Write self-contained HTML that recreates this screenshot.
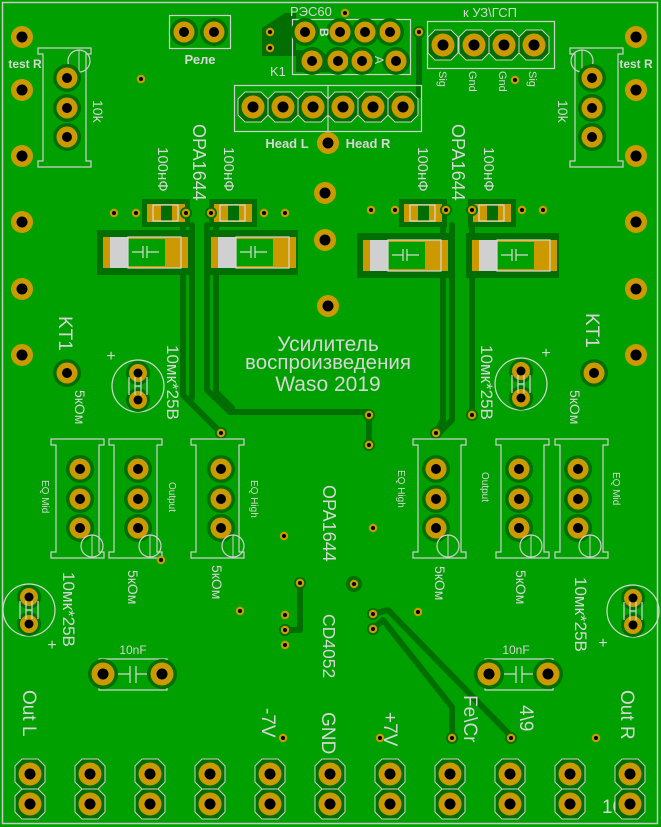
<!DOCTYPE html>
<html><head><meta charset="utf-8"><style>
html,body{margin:0;padding:0;background:#00a000;}
svg{display:block}
text{font-family:"Liberation Sans","DejaVu Sans",sans-serif;fill:#d6d6d6;}
</style></head><body>
<svg width="661" height="827" viewBox="0 0 661 827" xmlns="http://www.w3.org/2000/svg">
<defs>
<g id="pad"><circle r="15" fill="#006e00"/><circle r="11.5" fill="#cc9a00"/><circle r="5.5" fill="#000"/></g>
<g id="pad2"><circle r="11" fill="#cc9a00"/><circle r="5.5" fill="#000"/></g>
<g id="ppad"><circle r="14" fill="#006e00"/><circle r="10.5" fill="#cc9a00"/><circle r="5" fill="#000"/></g>
<g id="via"><circle r="6" fill="#006e00"/><circle r="4.2" fill="#cc9a00"/><circle r="2" fill="#000"/></g>
<g id="via2"><circle r="4.2" fill="#cc9a00"/><circle r="2" fill="#000"/></g>
<g id="hpad"><polygon points="-8,-15 8,-15 15,-8 15,8 8,15 -8,15 -15,8 -15,-8" fill="#006e00" stroke="#d0d0d0" stroke-width="1"/><circle r="11.5" fill="#cc9a00"/><circle r="5.5" fill="#000"/></g>
<g id="pot" fill="none" stroke="#d0d0d0" stroke-width="1.2">
<path d="M0,0 H53 V6 H48 V113 H53 V119 H0 V113 H5 V6 H0 Z"/>
</g>
<g id="smd">
<rect x="-5" y="-5" width="48" height="28" fill="#006e00"/>
<rect x="0" y="0" width="38" height="18" fill="#cc9a00"/>
<rect x="14" y="1" width="11" height="16" fill="#006e00"/>
<rect x="6" y="1" width="25" height="16" fill="none" stroke="#d8d8d8" stroke-width="1.2"/>
</g>
<g id="bigcap">
<rect x="0" y="0" width="93" height="45" fill="#006e00"/>
<rect x="6" y="7" width="85" height="31" fill="#cc9a00"/>
<rect x="13" y="7" width="18" height="31" fill="#d0d0d0"/>
<rect x="31" y="9" width="37" height="27" fill="#00a000"/>
<rect x="31" y="7" width="53" height="31" fill="none" stroke="#d8d8d8" stroke-width="1.2"/>
<path d="M35,22 H46 M46,16 V28 M50,16 V28 M50,22 H62" stroke="#d8d8d8" stroke-width="1.2"/>
</g>
<g id="ecap">
<circle r="26" fill="none" stroke="#d8d8d8" stroke-width="1.2"/>
<circle cx="0" cy="-13" r="12" fill="#006e00"/><circle cx="0" cy="14" r="12" fill="#006e00"/>
<circle cx="0" cy="-13" r="9" fill="#cc9a00"/><circle cx="0" cy="14" r="9" fill="#cc9a00"/>
<circle cx="0" cy="-13" r="4.5" fill="#000"/><circle cx="0" cy="14" r="4.5" fill="#000"/>
<path d="M-9,-9 V9 M-3,-9 V9 M3,-9 V9 M9,-9 V9 M-3,0 H3" stroke="#d8d8d8" stroke-width="1.2" fill="none"/>
</g>
<g id="ccap">
<rect x="0" y="0" width="68" height="31" fill="none" stroke="#d8d8d8" stroke-width="1.2"/>
<path d="M4,15 H31 M31,7 V24 M37,7 V24 M37,15 H63" stroke="#d8d8d8" stroke-width="1.2"/>
</g>
</defs>
<rect width="661" height="827" fill="#00a000"/>
<rect x="2.5" y="2.5" width="655" height="821" fill="none" stroke="#c8c8c8" stroke-width="1.5"/>

<g stroke="#006e00" stroke-width="6" fill="none" stroke-linejoin="round" stroke-linecap="round">
<path d="M183,225 V395 L221,433"/>
<path d="M192,225 V398"/>
<path d="M207,225 V390 L230,412 H369 V445"/>
<path d="M216,225 V392 L232,408"/>
<path d="M443,225 V420 L436,433"/>
<path d="M452,225 V420 L440,432"/>
<path d="M472,225 V415"/>
<path d="M300,583 V630 H285"/>
<path d="M373,614 L388,610 L513,738"/>
<path d="M373,629 L383,620 L452,707 V738"/>
<path d="M419,32 V95"/>
</g>
<polygon points="262,28 285,13 296,13 296,56 262,56" fill="#006e00"/>
<polygon points="296,50 320,50 345,72 296,72" fill="#006e00"/>

<g>
<use href="#pad2" x="22" y="37"/><use href="#pad2" x="22" y="90"/><use href="#pad2" x="22" y="156"/><use href="#pad2" x="22" y="222"/><use href="#pad2" x="22" y="289"/><use href="#pad2" x="22" y="355"/>
<use href="#pad2" x="636" y="37"/><use href="#pad2" x="636" y="90"/><use href="#pad2" x="636" y="156"/><use href="#pad2" x="636" y="222"/><use href="#pad2" x="636" y="289"/><use href="#pad2" x="636" y="355"/>
<use href="#pad2" x="328" y="143"/><use href="#pad2" x="325" y="193"/><use href="#pad2" x="325" y="240"/><use href="#pad2" x="328" y="306"/>
<use href="#ppad" x="67" y="373"/><use href="#ppad" x="594" y="373"/>
</g>
<text x="25" y="68" font-size="12" font-weight="bold" text-anchor="middle">test R</text>
<text x="636" y="68" font-size="12" font-weight="bold" text-anchor="middle">test R</text>

<use href="#pot" x="38" y="48"/>
<circle cx="79" cy="61" r="11" fill="none" stroke="#d0d0d0" stroke-width="1.2"/><path d="M79,50 V72" stroke="#d0d0d0"/>
<use href="#ppad" x="67" y="78"/><use href="#ppad" x="67" y="108"/><use href="#ppad" x="67" y="137"/>
<text transform="translate(93,100) rotate(90)" font-size="14">10k</text>
<use href="#pot" x="570" y="48"/>
<circle cx="582" cy="61" r="11" fill="none" stroke="#d0d0d0" stroke-width="1.2"/><path d="M582,50 V72" stroke="#d0d0d0"/>
<use href="#ppad" x="592" y="78"/><use href="#ppad" x="592" y="108"/><use href="#ppad" x="592" y="137"/>
<text transform="translate(558,100) rotate(90)" font-size="14">10k</text>

<rect x="169.5" y="15.5" width="61" height="33" fill="none" stroke="#d0d0d0" stroke-width="1.2"/>
<use href="#ppad" x="184" y="32"/><use href="#ppad" x="214" y="32"/>
<text x="200" y="64" font-size="13" font-weight="bold" text-anchor="middle">Реле</text>

<rect x="292.5" y="19.5" width="118" height="55" fill="none" stroke="#d0d0d0" stroke-width="1.2"/>
<use href="#ppad" x="305" y="32"/><use href="#ppad" x="340" y="32"/><use href="#ppad" x="365" y="32"/><use href="#ppad" x="390" y="32"/>
<use href="#ppad" x="312" y="61"/><use href="#ppad" x="338" y="61"/><use href="#ppad" x="362" y="61"/><use href="#ppad" x="396" y="61"/>
<text transform="translate(320,28) rotate(90)" font-size="12" font-weight="bold">B</text>
<text transform="translate(375,56) rotate(90)" font-size="12">A</text>
<text x="290" y="16" font-size="13">РЭС60</text>
<text x="270" y="76" font-size="13">K1</text>
<use href="#via" x="270" y="32"/><use href="#via" x="270" y="48"/><use href="#via2" x="345" y="13"/><use href="#via" x="419" y="32"/>

<rect x="427.5" y="21.5" width="127" height="47" fill="none" stroke="#d0d0d0" stroke-width="1.2"/>
<use href="#hpad" x="443" y="45"/><use href="#hpad" x="474" y="45"/><use href="#hpad" x="504" y="45"/><use href="#hpad" x="534" y="45"/>
<text x="490" y="17" font-size="13" text-anchor="middle">к УЗ\ГСП</text>
<text transform="translate(439,71) rotate(90)" font-size="11">Sig</text>
<text transform="translate(469,71) rotate(90)" font-size="11">Gnd</text>
<text transform="translate(499,71) rotate(90)" font-size="11">Gnd</text>
<text transform="translate(529,71) rotate(90)" font-size="11">Sig</text>
<use href="#via2" x="515" y="80"/>

<rect x="234.5" y="85.5" width="187" height="46" fill="none" stroke="#d0d0d0" stroke-width="1.2"/>
<path d="M328,85 V131" stroke="#d0d0d0" stroke-width="1.2"/>
<use href="#hpad" x="253" y="107"/><use href="#hpad" x="283" y="107"/><use href="#hpad" x="313" y="107"/><use href="#hpad" x="343" y="107"/><use href="#hpad" x="373" y="107"/><use href="#hpad" x="403" y="107"/>
<text x="287" y="148" font-size="13" font-weight="bold" text-anchor="middle">Head L</text>
<text x="368" y="148" font-size="13" font-weight="bold" text-anchor="middle">Head R</text>
<use href="#via2" x="141" y="79"/>

<text transform="translate(193,124) rotate(90)" font-size="18">OPA1644</text>
<text transform="translate(158,147) rotate(90)" font-size="15">100нФ</text>
<text transform="translate(224,147) rotate(90)" font-size="15">100нФ</text>
<text transform="translate(452,124) rotate(90)" font-size="18">OPA1644</text>
<text transform="translate(418,147) rotate(90)" font-size="15">100нФ</text>
<text transform="translate(484,147) rotate(90)" font-size="15">100нФ</text>

<use href="#smd" x="147" y="204"/><use href="#smd" x="214" y="204"/>
<use href="#smd" x="404" y="204"/><use href="#smd" x="473" y="204"/>
<use href="#via2" x="114" y="213"/><use href="#via2" x="136" y="213"/><use href="#via" x="186" y="213"/><use href="#via" x="211" y="213"/><use href="#via2" x="264" y="213"/><use href="#via2" x="285" y="213"/>
<use href="#via2" x="371" y="210"/><use href="#via2" x="395" y="210"/><use href="#via" x="446" y="210"/><use href="#via" x="472" y="210"/><use href="#via2" x="522" y="210"/><use href="#via2" x="543" y="210"/>
<use href="#bigcap" x="97" y="230"/><use href="#bigcap" x="205" y="230"/>
<use href="#bigcap" x="357" y="233"/><use href="#bigcap" x="466" y="233"/>

<text x="328" y="351" font-size="21" text-anchor="middle">Усилитель</text>
<text x="328" y="369" font-size="20.5" text-anchor="middle">воспроизведения</text>
<text x="328" y="391" font-size="21" text-anchor="middle">Waso 2019</text>

<text transform="translate(59,316) rotate(90)" font-size="19">KT1</text>
<text transform="translate(586,313) rotate(90)" font-size="19">KT1</text>

<use href="#ecap" x="138" y="386"/><text x="111" y="361" font-size="16" text-anchor="middle">+</text>
<text transform="translate(167,345) rotate(90)" font-size="17">10мк*25В</text>
<use href="#ecap" x="521" y="384"/><text x="546" y="358" font-size="16" text-anchor="middle">+</text>
<text transform="translate(481,345) rotate(90)" font-size="17">10мк*25В</text>
<use href="#via" x="221" y="433"/><use href="#via" x="369" y="415"/><use href="#via" x="369" y="445"/>
<use href="#via" x="436" y="433"/><use href="#via" x="472" y="415"/>

<text transform="translate(75,390) rotate(90)" font-size="14">5кОм</text>
<text transform="translate(570,390) rotate(90)" font-size="14">5кОм</text>

<use href="#pot" x="51" y="439"/><use href="#ppad" x="80" y="469"/><use href="#ppad" x="80" y="499"/><use href="#ppad" x="80" y="528"/>
<circle cx="92" cy="546" r="11" fill="none" stroke="#d0d0d0" stroke-width="1.2"/><path d="M92,535 V557" stroke="#d0d0d0"/>
<use href="#pot" x="109" y="439"/><use href="#ppad" x="138" y="469"/><use href="#ppad" x="138" y="499"/><use href="#ppad" x="138" y="528"/>
<circle cx="150" cy="546" r="11" fill="none" stroke="#d0d0d0" stroke-width="1.2"/><path d="M150,535 V557" stroke="#d0d0d0"/>
<use href="#pot" x="191" y="439"/><use href="#ppad" x="221" y="469"/><use href="#ppad" x="221" y="499"/><use href="#ppad" x="221" y="528"/>
<circle cx="233" cy="546" r="11" fill="none" stroke="#d0d0d0" stroke-width="1.2"/><path d="M233,535 V557" stroke="#d0d0d0"/>
<text transform="translate(42,480) rotate(90)" font-size="10">EQ Mid</text>
<text transform="translate(169,482) rotate(90)" font-size="10">Output</text>
<text transform="translate(251,480) rotate(90)" font-size="10">EQ High</text>
<use href="#via2" x="161" y="560"/>
<text transform="translate(128,570) rotate(90)" font-size="14">5кОм</text>
<text transform="translate(212,565) rotate(90)" font-size="14">5кОм</text>

<use href="#pot" x="413" y="439"/><use href="#ppad" x="436" y="469"/><use href="#ppad" x="436" y="499"/><use href="#ppad" x="436" y="528"/>
<circle cx="448" cy="546" r="11" fill="none" stroke="#d0d0d0" stroke-width="1.2"/><path d="M448,535 V557" stroke="#d0d0d0"/>
<use href="#pot" x="496" y="439"/><use href="#ppad" x="519" y="469"/><use href="#ppad" x="519" y="499"/><use href="#ppad" x="519" y="528"/>
<circle cx="531" cy="546" r="11" fill="none" stroke="#d0d0d0" stroke-width="1.2"/><path d="M531,535 V557" stroke="#d0d0d0"/>
<use href="#pot" x="555" y="439"/><use href="#ppad" x="578" y="469"/><use href="#ppad" x="578" y="499"/><use href="#ppad" x="578" y="528"/>
<circle cx="590" cy="546" r="11" fill="none" stroke="#d0d0d0" stroke-width="1.2"/><path d="M590,535 V557" stroke="#d0d0d0"/>
<text transform="translate(398,470) rotate(90)" font-size="10">EQ High</text>
<text transform="translate(482,472) rotate(90)" font-size="10">Output</text>
<text transform="translate(613,472) rotate(90)" font-size="10">EQ Mid</text>
<text transform="translate(435,566) rotate(90)" font-size="14">5кОм</text>
<text transform="translate(516,570) rotate(90)" font-size="14">5кОм</text>

<text transform="translate(323,485) rotate(90)" font-size="18">OPA1644</text>
<text transform="translate(323,614) rotate(90)" font-size="17.5">CD4052</text>
<use href="#via2" x="284" y="536"/><use href="#via2" x="373" y="528"/><use href="#via2" x="240" y="611"/>
<use href="#via" x="300" y="583"/><circle cx="354" cy="584" r="8" fill="#006e00"/><use href="#via2" x="354" y="584"/>
<use href="#via2" x="285" y="615"/><use href="#via" x="285" y="630"/><use href="#via2" x="285" y="645"/>
<use href="#via" x="373" y="614"/><use href="#via" x="373" y="629"/><use href="#via2" x="418" y="612"/>

<use href="#ecap" x="29" y="610"/><text x="52" y="650" font-size="16" text-anchor="middle">+</text>
<text transform="translate(63,572) rotate(90)" font-size="17">10мк*25В</text>
<use href="#ecap" x="633" y="611"/><text x="603" y="648" font-size="16" text-anchor="middle">+</text>
<text transform="translate(575,577) rotate(90)" font-size="17">10мк*25В</text>

<use href="#ccap" x="99" y="659"/><use href="#pad" x="103" y="674"/><use href="#pad" x="162" y="674"/>
<text x="133" y="654" font-size="12" text-anchor="middle">10nF</text>
<use href="#ccap" x="485" y="659"/><use href="#pad" x="489" y="674"/><use href="#pad" x="548" y="674"/>
<text x="516" y="654" font-size="12" text-anchor="middle">10nF</text>

<text transform="translate(23,690) rotate(90)" font-size="19">Out L</text>
<text transform="translate(262,708) rotate(90)" font-size="19">-7V</text>
<text transform="translate(322,712) rotate(90)" font-size="19">GND</text>
<text transform="translate(384,712) rotate(90)" font-size="19">+7V</text>
<text transform="translate(464,695) rotate(90)" font-size="19">Fe\Cr</text>
<text transform="translate(520,705) rotate(90)" font-size="19">4\9</text>
<text transform="translate(621,690) rotate(90)" font-size="19">Out R</text>
<text x="602" y="813" font-size="19">10</text>
<use href="#via2" x="283" y="738"/><use href="#via2" x="380" y="738"/><use href="#via" x="452" y="738"/><use href="#via" x="511" y="738"/><use href="#via2" x="596" y="738"/>

<g>
<use href="#hpad" x="30" y="774"/><use href="#hpad" x="30" y="804"/>
<use href="#hpad" x="90" y="774"/><use href="#hpad" x="90" y="804"/>
<use href="#hpad" x="150" y="774"/><use href="#hpad" x="150" y="804"/>
<use href="#hpad" x="210" y="774"/><use href="#hpad" x="210" y="804"/>
<use href="#hpad" x="270" y="774"/><use href="#hpad" x="270" y="804"/>
<use href="#hpad" x="330" y="774"/><use href="#hpad" x="330" y="804"/>
<use href="#hpad" x="390" y="774"/><use href="#hpad" x="390" y="804"/>
<use href="#hpad" x="450" y="774"/><use href="#hpad" x="450" y="804"/>
<use href="#hpad" x="510" y="774"/><use href="#hpad" x="510" y="804"/>
<use href="#hpad" x="570" y="774"/><use href="#hpad" x="570" y="804"/>
<use href="#hpad" x="630" y="774"/><use href="#hpad" x="630" y="804"/>
</g>
</svg>
</body></html>
